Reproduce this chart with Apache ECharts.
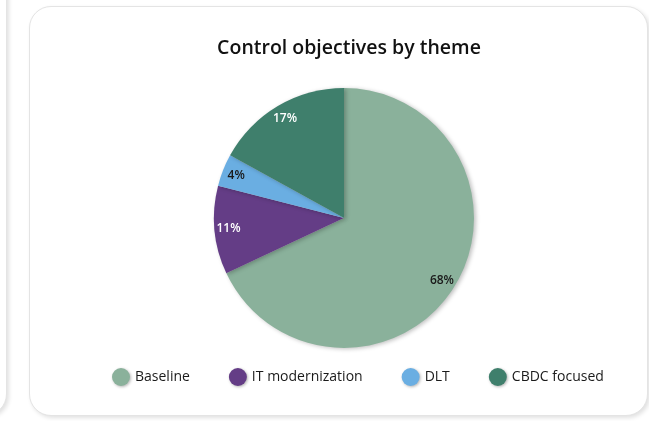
<!DOCTYPE html>
<html>
<head>
<meta charset="utf-8">
<script src="https://cdn.jsdelivr.net/npm/echarts@6/dist/echarts.min.js"></script>
<style>
  html, body { margin: 0; padding: 0; background: #fff; width: 649px; height: 421px; overflow: hidden; }
  .card {
    position: absolute;
    background: #fff;
    border: 1px solid #e4e4e4;
    border-radius: 22px;
    box-shadow: 2px 2px 4px rgba(0, 0, 0, 0.12);
  }
  #left-card { left: -320px; top: -30px; width: 325px; height: 444px; }
  #main-card { left: 29px; top: 6px; width: 617px; height: 408px; }
  #chart { position: absolute; left: 0; top: 0; width: 649px; height: 421px; }
</style>
</head>
<body>
<div class="card" id="left-card"></div>
<div class="card" id="main-card"></div>
<div id="chart"></div>
<script>
const chartTitle = "Control objectives by theme";
const themes = ["Baseline", "IT modernization", "DLT", "CBDC focused"];
const shares = [68, 11, 4, 17];
const themeColors = ["#8AB19B", "#643D86", "#6AAEE2", "#3F7F6C"];
const labelColors = ["#1a1a1a", "#ffffff", "#1a1a1a", "#ffffff"];

const chartDom = echarts.init(document.getElementById("chart"));

let pieData = themes.map((name, i) => ({
  name: name,
  value: shares[i],
  itemStyle: { color: themeColors[i] },
}));

// transparent ring, only used to put the labels near the rim
let labelData = themes.map((name, i) => ({
  name: name,
  value: shares[i],
  itemStyle: { color: "rgba(0,0,0,0)" },
  label: { color: labelColors[i] },
}));

chartDom.setOption({
  textStyle: { fontFamily: "'Open Sans', 'Noto Sans', sans-serif" },
  title: {
    text: chartTitle,
    left: 344,
    textAlign: "center",
    top: 33,
    textStyle: {
      fontSize: 19.5,
      fontWeight: 600,
      color: "#111",
      fontFamily: "'Open Sans', 'Noto Sans', sans-serif",
    },
  },
  legend: {
    data: themes,
    bottom: 30,
    left: 107,
    icon: "circle",
    itemWidth: 18,
    itemHeight: 18,
    itemGap: 39,
    textStyle: { fontSize: 14, color: "#1a1a1a", fontWeight: "normal" },
    itemStyle: {
      shadowBlur: 3,
      shadowColor: "rgba(0,0,0,0.3)",
      shadowOffsetX: 1,
      shadowOffsetY: 1,
    },
  },
  series: [
    {
      type: "pie",
      center: [344, 218],
      radius: [0, 130],
      startAngle: 90,
      clockwise: true,
      silent: true,
      label: { show: false },
      labelLine: { show: false },
      itemStyle: {
        shadowBlur: 4,
        shadowColor: "rgba(0,0,0,0.25)",
        shadowOffsetX: 2,
        shadowOffsetY: 1,
      },
      data: pieData,
    },
    {
      type: "pie",
      center: [344, 218],
      radius: [96, 130],
      startAngle: 90,
      clockwise: true,
      silent: true,
      label: {
        show: true,
        position: "inside",
        formatter: "{c}%",
        fontSize: 12,
        fontWeight: 600,
      },
      labelLine: { show: false },
      data: labelData,
    },
  ],
});
</script>
</body>
</html>
